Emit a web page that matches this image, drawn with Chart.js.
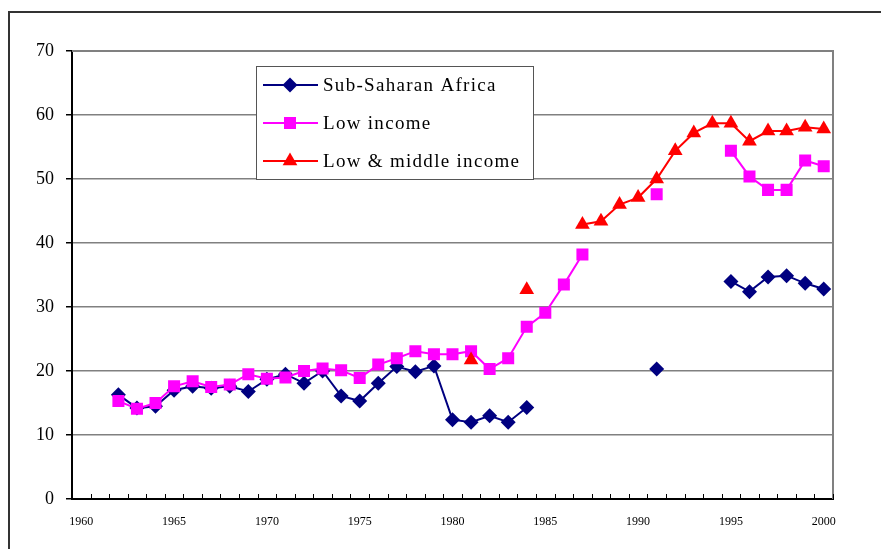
<!DOCTYPE html>
<html lang="en">
<head>
  <meta charset="UTF-8">
  <title>Sub-Saharan Africa vs income groups</title>
  <script src="https://cdn.jsdelivr.net/npm/chart.js@4.4.0/dist/chart.umd.min.js"></script>
  <style>
    body { margin: 0; background: #fff; }
    canvas { display: block; }
  </style>
</head>
<body>
  <canvas id="chart" width="881" height="549"></canvas>

  <script>
    // categories: one per year, labels shown every 5 years
    var years = [
      '1960', '1961', '1962', '1963', '1964', '1965', '1966', '1967', '1968', '1969',
      '1970', '1971', '1972', '1973', '1974', '1975', '1976', '1977', '1978', '1979',
      '1980', '1981', '1982', '1983', '1984', '1985', '1986', '1987', '1988', '1989',
      '1990', '1991', '1992', '1993', '1994', '1995', '1996', '1997', '1998', '1999',
      '2000'
    ];
    var shownYears = ['1960', '1965', '1970', '1975', '1980', '1985', '1990', '1995', '2000'];

    var subSaharan = [
      null, null, 16.3, 14.2, 14.5, 17.0, 17.6, 17.3, 17.6, 16.8,
      18.7, 19.5, 18.1, 20.0, 16.1, 15.3, 18.1, 20.7, 19.9, 20.8,
      12.4, 12.0, 13.0, 12.0, 14.3, null, null, null, null, null,
      null, 20.3, null, null, null, 34.0, 32.4, 34.7, 34.9, 33.7,
      32.8
    ];
    var lowIncome = [
      null, null, 15.3, 14.1, 15.0, 17.6, 18.4, 17.5, 17.9, 19.5,
      18.8, 19.0, 20.0, 20.4, 20.1, 18.9, 21.0, 22.0, 23.1, 22.6,
      22.6, 23.1, 20.3, 22.0, 26.9, 29.1, 33.5, 38.2, null, null,
      null, 47.6, null, null, null, 54.4, 50.4, 48.3, 48.3, 52.9,
      52.0
    ];
    var lowMiddle = [
      null, null, null, null, null, null, null, null, null, null,
      null, null, null, null, null, null, null, null, null, null,
      null, 21.7, null, null, 32.7, null, null, 42.9, 43.4, 46.0,
      47.1, 50.0, 54.4, 57.2, 58.7, 58.7, 55.9, 57.5, 57.5, 58.1,
      57.8
    ];
    var yTicks = [0, 10, 20, 30, 40, 50, 60, 70];

    var serif = '"Liberation Serif", "Times New Roman", serif';

    var series = [
      { label: 'Sub-Saharan Africa', data: subSaharan, color: '#000080', style: 'rectRot', radius: 7.5, order: 3 },
      { label: 'Low income', data: lowIncome, color: '#FF00FF', style: 'rect', radius: 8.5, order: 2 },
      { label: 'Low & middle income', data: lowMiddle, color: '#FF0000', style: 'triangle', radius: 8.5, order: 1 }
    ];

    function marker(ctx, style, x, y, r, color) {
      ctx.save();
      ctx.fillStyle = color;
      ctx.beginPath();
      if (style === 'rectRot') {
        ctx.moveTo(x, y - r); ctx.lineTo(x + r, y); ctx.lineTo(x, y + r); ctx.lineTo(x - r, y);
      } else if (style === 'rect') {
        var s = r * Math.SQRT1_2;
        ctx.rect(x - s, y - s, 2 * s, 2 * s);
      } else {
        ctx.moveTo(x, y - r);
        ctx.lineTo(x + r * 0.866, y + r * 0.5);
        ctx.lineTo(x - r * 0.866, y + r * 0.5);
      }
      ctx.closePath();
      ctx.fill();
      ctx.restore();
    }

    // outer frame, plot border, inner x ticks and the boxed legend
    var extras = {
      id: 'extras',
      beforeDraw: function (chart) {
        var ctx = chart.ctx;
        ctx.save();
        ctx.strokeStyle = '#333';
        ctx.lineWidth = 2;
        ctx.beginPath();
        ctx.moveTo(9, 549); ctx.lineTo(9, 12); ctx.lineTo(881, 12);
        ctx.stroke();
        ctx.restore();
      },
      afterDraw: function (chart) {
        var ctx = chart.ctx;
        var a = chart.chartArea;
        var x = chart.scales.x;

        ctx.save();
        ctx.strokeStyle = '#808080';
        ctx.lineWidth = 2;
        ctx.beginPath();
        ctx.moveTo(a.left, a.top); ctx.lineTo(a.right, a.top); ctx.lineTo(a.right, a.bottom);
        ctx.stroke();

        // small tick marks between the years, pointing up
        ctx.strokeStyle = '#000';
        ctx.lineWidth = 1;
        ctx.beginPath();
        for (var i = 0; i <= years.length; i++) {
          var px;
          if (i === 0) px = a.left;
          else if (i === years.length) px = a.right;
          else px = (x.getPixelForValue(i - 1) + x.getPixelForValue(i)) / 2;
          px = Math.round(px) + 0.5;
          ctx.moveTo(px, a.bottom); ctx.lineTo(px, a.bottom - 5);
        }
        ctx.stroke();

        // legend
        var lx = 256, ly = 66, lw = 277, lh = 113;
        ctx.fillStyle = '#fff';
        ctx.fillRect(lx, ly, lw, lh);
        ctx.strokeStyle = '#555';
        ctx.lineWidth = 1;
        ctx.strokeRect(lx + 0.5, ly + 0.5, lw, lh);
        ctx.font = '19px ' + serif;
        ctx.letterSpacing = '1.3px';
        ctx.textBaseline = 'middle';
        series.forEach(function (s, k) {
          var y = 85 + k * 38;
          ctx.strokeStyle = s.color;
          ctx.lineWidth = 2;
          ctx.beginPath();
          ctx.moveTo(263, y); ctx.lineTo(318, y);
          ctx.stroke();
          marker(ctx, s.style, 290, y, s.radius, s.color);
          ctx.fillStyle = '#000';
          ctx.fillText(s.label, 323, y + 1);
        });
        ctx.restore();
      }
    };

    new Chart(document.getElementById('chart'), {
      type: 'line',
      data: {
        labels: years,
        datasets: series.map(function (s) {
          return {
            label: s.label,
            data: s.data,
            order: s.order,
            borderColor: s.color,
            backgroundColor: s.color,
            borderWidth: 2,
            pointStyle: s.style,
            pointRadius: s.radius,
            pointBorderWidth: 0,
            pointHoverRadius: s.radius,
            spanGaps: false,
            tension: 0
          };
        })
      },
      options: {
        responsive: false,
        animation: false,
        layout: { padding: { left: 0, top: 51, right: 48, bottom: 0 } },
        plugins: { legend: { display: false }, tooltip: { enabled: false } },
        scales: {
          x: {
            type: 'category',
            offset: true,
            afterFit: function (scale) { scale.height = 50; },
            grid: { display: false, drawTicks: false },
            border: { display: true, color: '#000', width: 2 },
            ticks: {
              autoSkip: false,
              maxRotation: 0,
              padding: 16,
              color: '#000',
              font: { family: serif, size: 12 },
              callback: function (v) {
                var l = years[v];
                return shownYears.indexOf(l) >= 0 ? l : '';
              }
            }
          },
          y: {
            min: 0,
            max: 70,
            afterFit: function (scale) { scale.width = 72; },
            afterBuildTicks: function (scale) {
              scale.ticks = yTicks.map(function (v) { return { value: v }; });
            },
            grid: { color: '#808080', lineWidth: 1.5, tickLength: 6, tickColor: '#000' },
            border: { display: true, color: '#000', width: 2 },
            ticks: {
              padding: 12,
              color: '#000',
              font: { family: serif, size: 18 }
            }
          }
        }
      },
      plugins: [extras]
    });
  </script>
</body>
</html>
